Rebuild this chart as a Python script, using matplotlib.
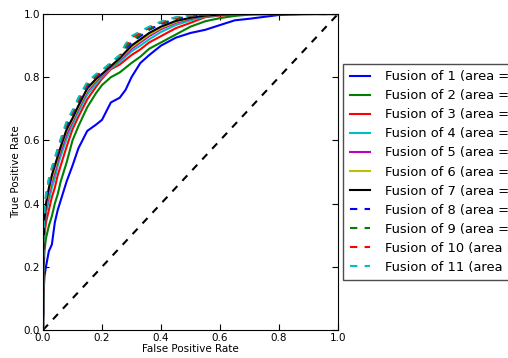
import numpy as np
import matplotlib
matplotlib.use('Agg')
import matplotlib.pyplot as plt

# false positive rate grid (shared by all curves)
fpr = [0, 0.002, 0.005, 0.01, 0.02, 0.03, 0.04, 0.05, 0.06, 0.08, 0.10, 0.12, 0.15, 0.18, 0.20,
       0.23, 0.26, 0.28, 0.30, 0.33, 0.36, 0.40, 0.45, 0.50, 0.55, 0.60, 0.65, 0.70, 0.80, 0.90, 1.0]

tpr1 = [0, 0.12, 0.17, 0.20, 0.25, 0.27, 0.34, 0.38, 0.41, 0.47, 0.52, 0.575, 0.63, 0.65, 0.665,
        0.72, 0.735, 0.76, 0.80, 0.845, 0.87, 0.90, 0.925, 0.94, 0.95, 0.965, 0.98, 0.985, 0.997, 1.0, 1.0]
tpr2 = [0, 0.18, 0.25, 0.29, 0.33, 0.36, 0.40, 0.43, 0.47, 0.53, 0.60, 0.645, 0.705, 0.75, 0.775,
        0.80, 0.815, 0.83, 0.845, 0.865, 0.89, 0.91, 0.935, 0.96, 0.977, 0.987, 0.994, 0.998, 1, 1, 1]
tpr3 = [0, 0.22, 0.30, 0.34, 0.38, 0.42, 0.45, 0.49, 0.52, 0.58, 0.635, 0.675, 0.73, 0.77, 0.795,
        0.825, 0.84, 0.855, 0.87, 0.888, 0.91, 0.93, 0.955, 0.972, 0.99, 0.995, 0.998, 1, 1, 1, 1]
tpr4 = [0, 0.25, 0.32, 0.37, 0.41, 0.45, 0.48, 0.52, 0.55, 0.605, 0.65, 0.69, 0.745, 0.78, 0.80,
        0.828, 0.848, 0.865, 0.882, 0.90, 0.92, 0.943, 0.965, 0.98, 0.992, 0.997, 1, 1, 1, 1, 1]
tpr5 = [0, 0.26, 0.33, 0.38, 0.43, 0.47, 0.50, 0.535, 0.565, 0.62, 0.66, 0.70, 0.755, 0.788, 0.805,
        0.832, 0.855, 0.872, 0.89, 0.91, 0.93, 0.952, 0.972, 0.985, 0.994, 0.998, 1, 1, 1, 1, 1]
tpr6 = [0, 0.27, 0.34, 0.39, 0.44, 0.48, 0.51, 0.545, 0.575, 0.63, 0.665, 0.705, 0.76, 0.792, 0.808,
        0.834, 0.858, 0.876, 0.895, 0.915, 0.935, 0.956, 0.975, 0.987, 0.995, 0.998, 1, 1, 1, 1, 1]
tpr7 = [0, 0.28, 0.35, 0.40, 0.45, 0.49, 0.52, 0.55, 0.58, 0.635, 0.67, 0.71, 0.765, 0.795, 0.81,
        0.835, 0.86, 0.88, 0.90, 0.92, 0.94, 0.96, 0.978, 0.988, 0.995, 0.998, 1, 1, 1, 1, 1]
tpr8 = [0, 0.29, 0.36, 0.41, 0.46, 0.50, 0.53, 0.56, 0.59, 0.645, 0.68, 0.72, 0.77, 0.80, 0.815,
        0.84, 0.865, 0.89, 0.91, 0.93, 0.95, 0.968, 0.984, 0.993, 0.998, 1, 1, 1, 1, 1, 1]
tpr9 = [0, 0.29, 0.37, 0.42, 0.47, 0.505, 0.535, 0.565, 0.595, 0.65, 0.685, 0.725, 0.775, 0.803, 0.818,
        0.842, 0.866, 0.893, 0.915, 0.935, 0.953, 0.97, 0.986, 0.994, 0.998, 1, 1, 1, 1, 1, 1]
tpr10 = [0, 0.30, 0.37, 0.42, 0.475, 0.51, 0.54, 0.57, 0.60, 0.655, 0.69, 0.73, 0.78, 0.805, 0.82,
         0.845, 0.868, 0.90, 0.925, 0.94, 0.957, 0.973, 0.988, 0.995, 0.999, 1, 1, 1, 1, 1, 1]
tpr11 = [0, 0.31, 0.38, 0.43, 0.48, 0.515, 0.545, 0.575, 0.605, 0.66, 0.695, 0.735, 0.785, 0.81, 0.822,
         0.847, 0.87, 0.905, 0.93, 0.945, 0.96, 0.976, 0.99, 0.996, 1, 1, 1, 1, 1, 1, 1]

tprs = [tpr1, tpr2, tpr3, tpr4, tpr5, tpr6, tpr7, tpr8, tpr9, tpr10, tpr11]
areas = [0.86, 0.89, 0.90, 0.91, 0.91, 0.91, 0.92, 0.92, 0.92, 0.92, 0.92]
styles = ['b-', 'g-', 'r-', 'c-', 'm-', 'y-', 'k-', 'b--', 'g--', 'r--', 'c--']

plt.rcParams['font.family'] = 'DejaVu Sans'
plt.rcParams['lines.dashed_pattern'] = [3.5, 3.5]

fig = plt.figure(figsize=(5.08, 3.58), dpi=100)
ax = fig.add_axes([43/508, 28/358, 295/508, 316/358])

ax.plot([0, 1], [0, 1], 'k--', lw=1.5)
for i in range(len(tprs)):
    ax.plot(fpr, tprs[i], styles[i], lw=1.5,
            label='Fusion of %d (area = %0.2f)' % (i + 1, areas[i]))

ax.set_xlim(0, 1)
ax.set_ylim(0, 1)
ax.set_xticks(np.arange(0, 1.01, 0.2))
ax.set_yticks(np.arange(0, 1.01, 0.2))
ax.tick_params(direction='in', top=True, right=True, labelsize=7.5, length=4, pad=2)
ax.set_xlabel('False Positive Rate', fontsize=7.5, labelpad=1)
ax.set_ylabel('True Positive Rate', fontsize=7.5, labelpad=2)

leg = ax.legend(loc='center left', bbox_to_anchor=(1.017, 0.5), borderaxespad=0,
                fontsize=9.4, handlelength=1.6, handletextpad=1.15, labelspacing=0.465,
                fancybox=False, framealpha=1, borderpad=0.5)
leg.get_frame().set_edgecolor('0.3')

fig.savefig('out.png', dpi=100)
